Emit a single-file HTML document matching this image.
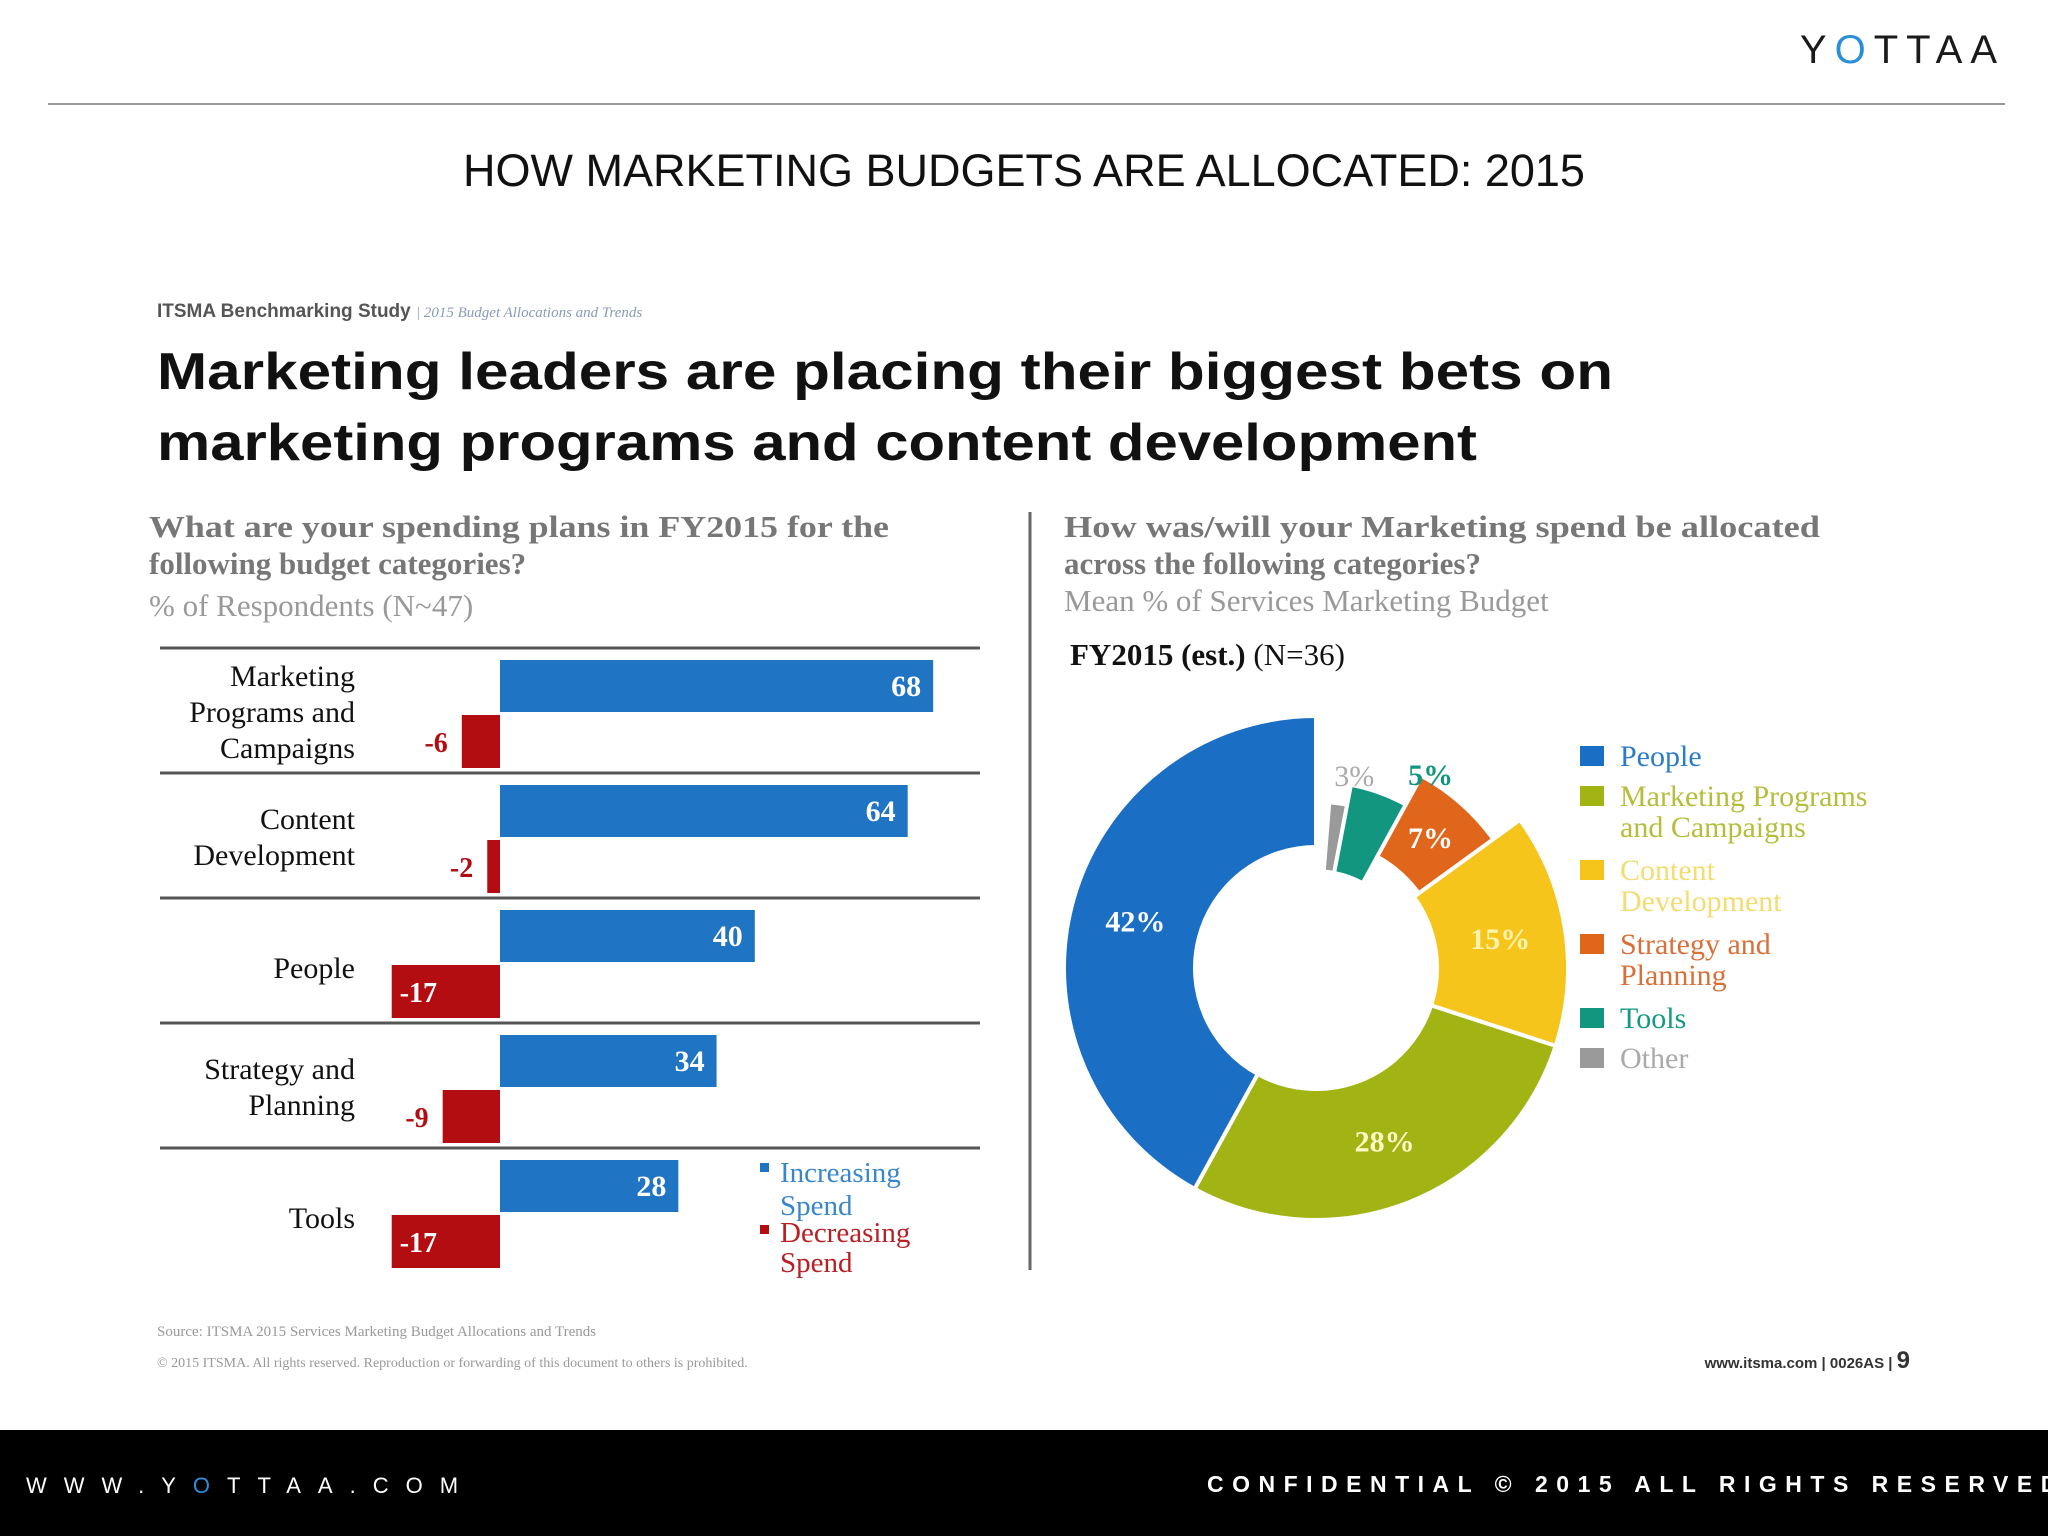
<!DOCTYPE html>
<html><head><meta charset="utf-8"><style>
html,body{margin:0;padding:0;background:#fff}
svg{display:block}
.serif{font-family:"Liberation Serif",serif}
.sans{font-family:"Liberation Sans",sans-serif}
</style></head><body>
<svg id="s" width="2048" height="1536" viewBox="0 0 2048 1536" xmlns="http://www.w3.org/2000/svg">
<rect width="2048" height="1536" fill="#fff"/>
<text x="2005" y="63" text-anchor="end" class="sans" font-size="40" letter-spacing="8" fill="#1a1a1a">Y<tspan fill="#2a8fd6">O</tspan>TTAA</text>
<line x1="48" y1="104" x2="2005" y2="104" stroke="#999" stroke-width="2"/>
<text x="1024" y="186" text-anchor="middle" class="sans" font-size="45" fill="#111">HOW MARKETING BUDGETS ARE ALLOCATED: 2015</text>

<text x="157" y="317" class="sans" font-size="19" font-weight="bold" fill="#555">ITSMA Benchmarking Study <tspan font-weight="normal" class="serif" font-style="italic" font-size="15" fill="#8a9ab8">| 2015 Budget Allocations and Trends</tspan></text>
<text x="157" y="389" class="sans" font-size="52" font-weight="bold" fill="#111" textLength="1456" lengthAdjust="spacingAndGlyphs">Marketing leaders are placing their biggest bets on</text>
<text x="157" y="460" class="sans" font-size="52" font-weight="bold" fill="#111" textLength="1320" lengthAdjust="spacingAndGlyphs">marketing programs and content development</text>

<g class="serif" font-size="31" fill="#777" font-weight="bold">
<text x="149" y="537" textLength="740" lengthAdjust="spacingAndGlyphs">What are your spending plans in FY2015 for the</text>
<text x="149" y="574">following budget categories?</text>
<text x="149" y="616" font-weight="normal" fill="#999">% of Respondents (N~47)</text>
</g>
<g class="serif" font-size="31" fill="#777" font-weight="bold">
<text x="1064" y="537" textLength="756" lengthAdjust="spacingAndGlyphs">How was/will your Marketing spend be allocated</text>
<text x="1064" y="574">across the following categories?</text>
<text x="1064" y="611" font-weight="normal" fill="#999">Mean % of Services Marketing Budget</text>
<text x="1070" y="665" fill="#111">FY2015 (est.) <tspan font-weight="normal">(N=36)</tspan></text>
</g>
<line x1="1030" y1="512" x2="1030" y2="1270" stroke="#666" stroke-width="3"/>

<g id="bars"></g>
<g class="serif" font-size="29">
<rect x="760" y="1163" width="9" height="9" fill="#1f74c4"/>
<text x="780" y="1182" fill="#3a86cc">Increasing</text>
<text x="780" y="1215" fill="#3a86cc">Spend</text>
<rect x="760" y="1225" width="9" height="9" fill="#b30d12"/>
<text x="780" y="1242" fill="#b82025">Decreasing</text>
<text x="780" y="1272" fill="#b82025">Spend</text>
</g>

<g id="donut"></g>
<g id="dlabels"></g>
<g id="dlegend" class="serif" font-size="30"></g>

<text x="157" y="1336" class="serif" font-size="15" fill="#999">Source: ITSMA 2015 Services Marketing Budget Allocations and Trends</text>
<text x="157" y="1367" class="serif" font-size="14" fill="#999">© 2015 ITSMA. All rights reserved. Reproduction or forwarding of this document to others is prohibited.</text>
<text x="1910" y="1368" text-anchor="end" class="sans" font-size="15" font-weight="bold" fill="#333">www.itsma.com | 0026AS | <tspan font-size="24">9</tspan></text>

<rect x="0" y="1430" width="2048" height="106" fill="#000"/>
<text x="26" y="1493" class="sans" font-size="22" letter-spacing="17" fill="#fff">WWW.Y<tspan fill="#2a8fd6">O</tspan>TTAA.COM</text>
<text x="1207" y="1492" class="sans" font-size="23" font-weight="bold" letter-spacing="8.5" fill="#fff">CONFIDENTIAL © 2015 ALL RIGHTS RESERVED</text>
</svg>
<script>
const categories=["Marketing|Programs and|Campaigns","Content|Development","People","Strategy and|Planning","Tools"];
const increasing=[68,64,40,34,28];
const decreasing=[-6,-2,-17,-9,-17];
const slices=["Other","Tools","Strategy and Planning","Content Development","Marketing Programs and Campaigns","People"];
const shares=[3,5,7,15,28,42];
const NS="http://www.w3.org/2000/svg";
function mk(t,a,p){const e=document.createElementNS(NS,t);for(const k in a)e.setAttribute(k,a[k]);p.appendChild(e);return e;}
const x0=500,pxu=6.37,rowTop=648,rowH=125;
const xs=v=>x0+v*pxu;
const yRow=i=>rowTop+i*rowH;
const bars=document.getElementById('bars');
categories.forEach((c,i)=>{
  const y=yRow(i);
  const ln=mk('line',{x1:160,x2:980,y1:y,y2:y,stroke:'#555','stroke-width':3},bars);
  
  
  const lines=c.split('|');const cy=y+12+52+(lines.length>1?-(lines.length-1)*18:6);
  lines.forEach((l,j)=>{const t=mk('text',{x:355,y:cy+j*36+10,'text-anchor':'end','font-size':30,'font-family':'"Liberation Serif",serif',fill:'#111'},bars);t.textContent=l;
    
    });
  const bv=increasing[i];
  const b=mk('rect',{x:xs(0),y:y+12,width:xs(bv)-xs(0),height:52,fill:'#1f74c4'},bars);
  
  
  const bt=mk('text',{x:xs(bv)-12,y:y+48,'text-anchor':'end','font-size':30,'font-weight':'bold','font-family':'"Liberation Serif",serif',fill:'#fff'},bars);bt.textContent=bv;
  
  
  const dv=decreasing[i];
  const r=mk('rect',{x:xs(dv),y:y+67,width:xs(0)-xs(dv),height:53,fill:'#b30d12'},bars);
  
  
  const inside=dv<=-12;
  const rt=mk('text',{x:inside?xs(dv)+8:xs(dv)-14,y:y+104,'text-anchor':inside?'start':'end','font-size':28,'font-weight':'bold','font-family':'"Liberation Serif",serif',fill:inside?'#fff':'#b30d12'},bars);rt.textContent=dv;
  
  
});
// donut
const colors=["#9a9a9a","#13967f","#e0661c","#f5c51c","#a2b414","#1a6fc4"];
const labelColors=["#aaa","#13967f","#fff","#fff3b0","#fff9c8","#fff"];
const cx=1316,cy=968,R=252,Ri=121;
const outer=[0.66,0.74,0.87,1,1,1];
const inner=[0.8,0.8,1.05,1,1,1];
const donut=document.getElementById('donut');
const dlabels=document.getElementById('dlabels');
const total=shares.reduce((a,b)=>a+b,0);
let acc=0;
const pt=(a,r)=>[cx+r*Math.sin(a),cy-r*Math.cos(a)];
shares.forEach((v,i)=>{
  const a0=acc/total*2*Math.PI+(i==0?0.08:0);acc+=v;const a1=acc/total*2*Math.PI;
  const ro=R*outer[i],ri=Ri*inner[i];
  const p1=pt(a0,ro),p2=pt(a1,ro),p3=pt(a1,ri),p4=pt(a0,ri);const lg=(a1-a0)>Math.PI?1:0;
  const p=mk('path',{d:`M${p1}L${p1}A${ro},${ro} 0 ${lg} 1 ${p2}L${p3}A${ri},${ri} 0 ${lg} 0 ${p4}Z`,fill:colors[i],stroke:'#fff','stroke-width':4},donut);
  
  
  const am=(a0+a1)/2;let lp=pt(am,(ro+ri)/2);
  if(i==0){lp=pt(am,R*0.78);lp[0]+=12;lp[1]+=3;}
  if(i==1){lp=pt(am,R*0.78);lp[0]+=48;lp[1]-=8;}
  const t=mk('text',{x:lp[0],y:lp[1]+10,'text-anchor':'middle','font-size':30,'font-weight':i==0?'normal':'bold','font-family':'"Liberation Serif",serif',fill:labelColors[i]},dlabels);
  t.textContent=v+'%';
  
  
});
// donut legend (People first)
const leg=document.getElementById('dlegend');
const order=[5,4,3,2,1,0];
const legTxt=[["People"],["Marketing Programs","and Campaigns"],["Content","Development"],["Strategy and","Planning"],["Tools"],["Other"]];
const legTxtCol=["#2a7bc8","#b6bd3a","#f3dc70","#d9703a","#149a83","#aaa"];
let ly=766;
order.forEach((si,k)=>{
  const sw=mk('rect',{x:1580,y:ly-20,width:24,height:20,fill:colors[si]},leg);
  
  
  legTxt[k].forEach((l,j)=>{const t=mk('text',{x:1620,y:ly+j*31,fill:legTxtCol[k]},leg);t.textContent=l;
    
    });
  ly+=legTxt[k].length>1?74:40;
});
</script>
</body></html>
